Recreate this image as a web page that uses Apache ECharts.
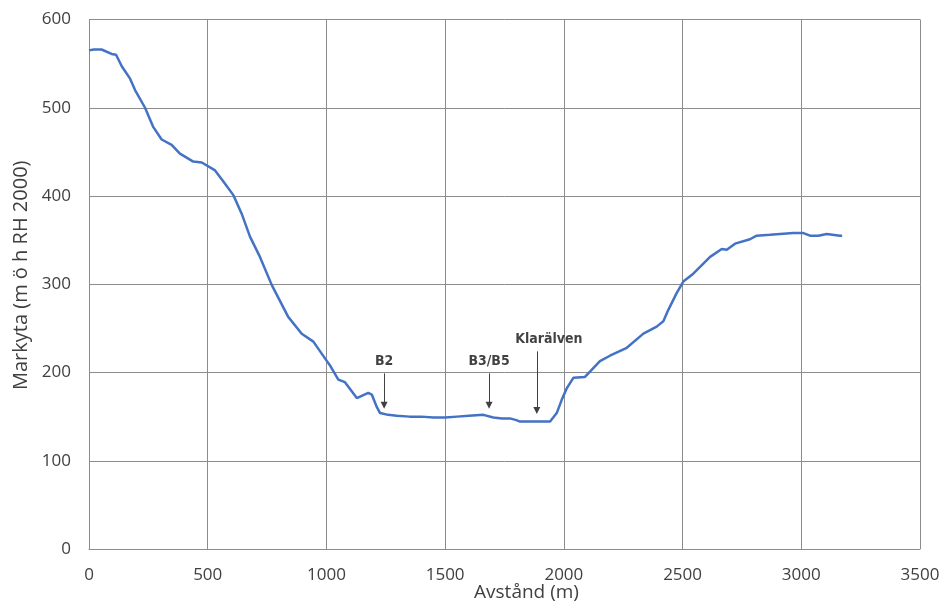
<!DOCTYPE html>
<html>
<head>
<meta charset="utf-8">
<script src="https://cdn.jsdelivr.net/npm/echarts@6/dist/echarts.min.js"></script>
<style>
html,body{margin:0;padding:0;background:#fff;}
#chart{width:942px;height:603px;}
</style>
</head>
<body>
<div id="chart"></div>
<script>
// Profile data: distance (m) and ground level (m ö h RH 2000)
const distance = [0,20,53,95,114,138,173,194,236,271,306,348,383,439,475,531,573,608,643,678,720,770,839,896,945,994,1015,1050,1078,1128,1176,1191,1212,1226,1260,1296,1350,1400,1450,1500,1550,1600,1661,1703,1740,1773,1800,1815,1942,1970,1991,2012,2040,2089,2110,2152,2194,2265,2335,2391,2419,2440,2475,2503,2545,2616,2665,2686,2721,2784,2812,2868,2967,3009,3037,3072,3107,3163,3172];
const elevation = [565,566,566,561,560,547,533,520,500,478,464,458,448,439,438,429,414,401,380,354,331,299,263,244,235,216,208,192,189,171,177,175,161,154,152,151,150,150,149,149,150,151,152,149,148,148,146,144.4,144.4,154,169,182,194,195,201,213,219,228,244,252,258,271,290,303,312,331,340,339,346,351,355,356,358,358,355,355,357,355,355];

// Annotations
const annLabels = ['B2','B3/B5','Klarälven'];
const annX = [1243, 1685, 1886];
const annTop = [199, 199, 224];
const annTip = [163, 163, 157];

const xTicks = [0,500,1000,1500,2000,2500,3000,3500];
const yTicks = [0,100,200,300,400,500,600];

const lineData = distance.map((d,i)=>[d, elevation[i]]);
const annPoints = annX.map((x,i)=>({
  name: annLabels[i],
  value: [x, annTop[i]],
  label: { offset: i === 2 ? [12,0] : [0,0] }
}));
const arrows = annX.map((x,i)=>[
  { coord: [x, annTop[i]], symbol: 'none' },
  { coord: [x, annTip[i]], symbol: 'triangle' }
]);

const chart = echarts.init(document.getElementById('chart'), null, {renderer:'canvas'});
const gridColor = '#8c8c8c';
const textColor = '#404040';
chart.setOption({
  animation: false,
  backgroundColor: '#ffffff',
  grid: { left: 89, right: 22, top: 19.5, bottom: 54, containLabel: false, outerBoundsMode: 'none' },
  xAxis: {
    type: 'value',
    min: xTicks[0], max: xTicks[xTicks.length-1], interval: 500,
    name: 'Avstånd (m)', nameLocation: 'middle', nameGap: 34, nameMoveOverlap: false,
    nameTextStyle: { fontFamily: 'Open Sans', fontSize: 19, color: textColor, padding: [0,0,0,44] },
    axisLine: { show: true, lineStyle: { color: gridColor, width: 1 } },
    axisTick: { show: false },
    axisLabel: { fontFamily: 'Open Sans', fontSize: 17, color: textColor, margin: 18, formatter: v => String(v) },
    splitLine: { show: true, lineStyle: { color: gridColor, width: 1 } }
  },
  yAxis: {
    type: 'value',
    min: yTicks[0], max: yTicks[yTicks.length-1], interval: 100,
    name: 'Markyta (m ö h RH 2000)', nameLocation: 'middle', nameGap: 58, nameRotate: 90, nameMoveOverlap: false,
    nameTextStyle: { fontFamily: 'Open Sans', fontSize: 20, color: textColor, padding: [0,0,0,18] },
    axisLine: { show: true, lineStyle: { color: gridColor, width: 1 } },
    axisTick: { show: false },
    axisLabel: { fontFamily: 'Open Sans', fontSize: 17, color: textColor, margin: 18, formatter: v => String(v) },
    splitLine: { show: true, lineStyle: { color: gridColor, width: 1 } }
  },
  series: [
    {
      type: 'line',
      data: lineData,
      showSymbol: false,
      symbol: 'none',
      smooth: false,
      lineStyle: { color: '#4472C4', width: 2.5 },
      z: 3
    },
    {
      type: 'scatter',
      data: annPoints,
      symbolSize: 0,
      silent: true,
      label: {
        show: true, position: 'top', distance: 5,
        formatter: p => p.name,
        fontFamily: "'DejaVu Sans Condensed', 'Liberation Sans Narrow', 'DejaVu Sans'",
        fontWeight: 'bold', fontSize: 14, color: '#111'
      },
      markLine: {
        silent: true,
        animation: false,
        symbolSize: [7, 7],
        label: { show: false },
        lineStyle: { color: '#404040', width: 1, type: 'solid' },
        emphasis: { disabled: true },
        data: arrows
      },
      z: 4
    }
  ]
});
</script>
</body>
</html>
